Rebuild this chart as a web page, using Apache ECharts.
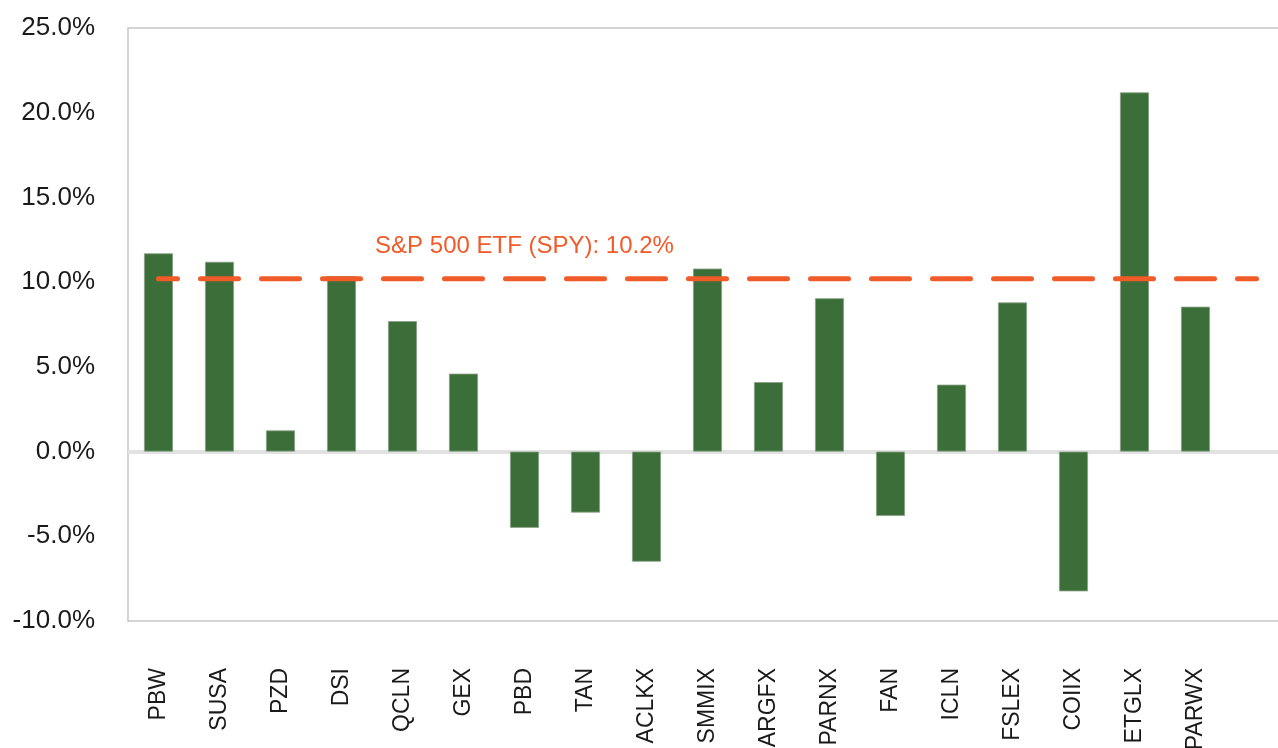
<!DOCTYPE html>
<html>
<head>
<meta charset="utf-8">
<script src="https://cdn.jsdelivr.net/npm/echarts@6/dist/echarts.min.js"></script>
<style>
html,body{margin:0;padding:0;background:#fff;overflow:hidden;}
#chart{width:1278px;height:748px;}
</style>
</head>
<body>
<div id="chart"></div>
<script>
const categories = ['PBW','SUSA','PZD','DSI','QCLN','GEX','PBD','TAN','ACLKX','SMMIX','ARGFX','PARNX','FAN','ICLN','FSLEX','COIIX','ETGLX','PARWX'];
const returns = [11.7, 11.2, 1.25, 10.35, 7.7, 4.6, -4.5, -3.6, -6.5, 10.8, 4.1, 9.05, -3.8, 3.95, 8.8, -8.25, 21.2, 8.55];
const spyReturn = 10.2;
const spyLabel = 'S&P 500 ETF (SPY): 10.2%';
const yTicks = { min: -10, max: 25, step: 5 };

const xCats = categories.concat(['']);
const barData = returns.concat(['-']);
const lineData = xCats.map(() => spyReturn);

const borderLine = { show: true, onZero: false, lineStyle: { color: '#c6c6c6', width: 1.5 } };

const chart = echarts.init(document.getElementById('chart'), null, {renderer: 'canvas'});
chart.setOption({
  animation: false,
  backgroundColor: '#ffffff',
  grid: {
    left: 128, top: 28, bottom: 127, width: 1159,
    outerBoundsMode: 'none', containLabel: false, show: false
  },
  xAxis: [
    {
      type: 'category',
      data: xCats,
      position: 'bottom',
      axisLine: borderLine,
      axisTick: { show: false },
      axisLabel: {
        interval: 0, rotate: 90, margin: 47,
        fontSize: 23, color: '#1a1a1a', fontFamily: 'Liberation Sans'
      }
    },
    {
      type: 'category',
      data: xCats,
      position: 'top',
      axisLine: borderLine,
      axisTick: { show: false },
      axisLabel: { show: false }
    }
  ],
  yAxis: {
    type: 'value',
    min: yTicks.min, max: yTicks.max, interval: yTicks.step,
    axisLine: { show: true, lineStyle: { color: '#c6c6c6', width: 1.5 } },
    axisTick: { show: false },
    splitLine: { show: false },
    axisLabel: {
      margin: 33, fontSize: 26, color: '#1a1a1a', fontFamily: 'Liberation Sans',
      formatter: v => v.toFixed(1) + '%'
    }
  },
  series: [
    {
      type: 'bar',
      data: barData,
      barWidth: 29,
      itemStyle: { color: '#3c6e39', borderColor: '#86a384', borderWidth: 0.8 },
      markLine: {
        silent: true, symbol: 'none', label: { show: false },
        lineStyle: { color: '#e2e2e2', width: 4, type: 'solid' },
        data: [{ yAxis: 0 }],
        z: 1
      }
    },
    {
      type: 'line',
      data: lineData,
      symbol: 'none',
      lineStyle: { color: '#f15a29', width: 5, type: [38, 23], dashOffset: 19, cap: 'round' },
      z: 5
    },
    {
      type: 'scatter',
      data: [[6, spyReturn]],
      symbolSize: 1,
      itemStyle: { color: 'rgba(0,0,0,0)', opacity: 1 },
      label: {
        show: true, position: 'top', distance: 20,
        formatter: spyLabel,
        color: '#f15a29', fontSize: 24, fontFamily: 'Liberation Sans'
      },
      z: 6
    }
  ]
});
</script>
</body>
</html>
